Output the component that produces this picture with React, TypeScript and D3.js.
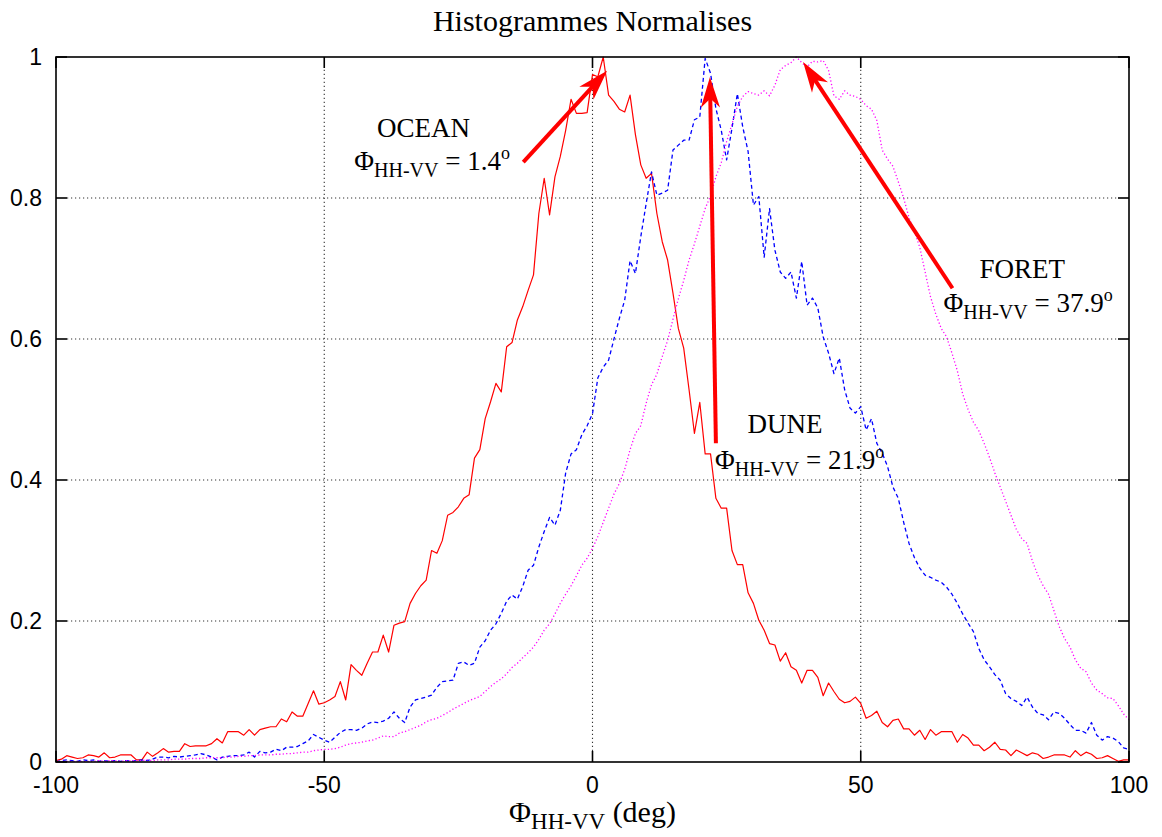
import * as d3 from 'd3';

// bin centres, degrees
const angles = d3.range(-100, 101);

// OCEAN histogram (red, solid)
const ocean = [
  0.002, 0.004, 0.009, 0.007, 0.005, 0.006, 0.01, 0.009, 0.007, 0.013,
  0.006, 0.007, 0.01, 0.01, 0.01, 0.003, 0.003, 0.014, 0.008, 0.013,
  0.019, 0.014, 0.015, 0.015, 0.026, 0.022, 0.023, 0.023, 0.023, 0.026,
  0.033, 0.027, 0.043, 0.043, 0.043, 0.038, 0.046, 0.038, 0.046, 0.048,
  0.05, 0.05, 0.061, 0.057, 0.071, 0.065, 0.065, 0.083, 0.101, 0.082,
  0.084, 0.088, 0.093, 0.114, 0.088, 0.138, 0.13, 0.123, 0.14, 0.156,
  0.156, 0.18, 0.156, 0.194, 0.197, 0.199, 0.225, 0.239, 0.25, 0.258,
  0.3, 0.296, 0.314, 0.35, 0.354, 0.362, 0.374, 0.379, 0.431, 0.443,
  0.487, 0.511, 0.537, 0.525, 0.589, 0.595, 0.627, 0.646, 0.669, 0.691,
  0.778, 0.828, 0.776, 0.83, 0.859, 0.896, 0.94, 0.92, 0.92, 0.921,
  0.975, 0.972, 1.0, 0.946, 0.937, 0.926, 0.922, 0.946, 0.89, 0.847,
  0.828, 0.835, 0.778, 0.738, 0.712, 0.665, 0.615, 0.587, 0.528, 0.466,
  0.51, 0.437, 0.437, 0.374, 0.36, 0.36, 0.3, 0.28, 0.28, 0.24,
  0.225, 0.201, 0.187, 0.168, 0.166, 0.143, 0.155, 0.135, 0.13, 0.112,
  0.13, 0.13, 0.12, 0.094, 0.112, 0.1, 0.089, 0.084, 0.086, 0.092,
  0.083, 0.062, 0.066, 0.072, 0.056, 0.05, 0.059, 0.061, 0.047, 0.047,
  0.038, 0.045, 0.032, 0.046, 0.038, 0.043, 0.043, 0.043, 0.028, 0.039,
  0.034, 0.024, 0.024, 0.016, 0.021, 0.028, 0.018, 0.017, 0.009, 0.017,
  0.013, 0.009, 0.013, 0.011, 0.005, 0.007, 0.01, 0.01, 0.01, 0.007,
  0.016, 0.009, 0.014, 0.011, 0.005, 0.006, 0.009, 0.005, 0.001, 0.003,
  0.003,
];

// DUNE histogram (blue, dashed)
const dune = [
  0.0, 0.002, 0.003, 0.002, 0.001, 0.003, 0.002, 0.003, 0.001, 0.002,
  0.001, 0.002, 0.001, 0.002, 0.001, 0.002, 0.003, 0.002, 0.004, 0.007,
  0.007, 0.006, 0.008, 0.007, 0.008, 0.009, 0.01, 0.012, 0.01, 0.007,
  0.003, 0.007, 0.008, 0.009, 0.009, 0.01, 0.014, 0.007, 0.015, 0.013,
  0.014, 0.018, 0.016, 0.021, 0.021, 0.022, 0.026, 0.03, 0.039, 0.035,
  0.031, 0.028, 0.035, 0.042, 0.046, 0.046, 0.045, 0.048, 0.054, 0.057,
  0.056, 0.058, 0.062, 0.071, 0.062, 0.056, 0.078, 0.088, 0.09, 0.092,
  0.095, 0.106, 0.114, 0.115, 0.116, 0.14, 0.142, 0.137, 0.14, 0.163,
  0.172, 0.187, 0.196, 0.211, 0.228, 0.237, 0.231, 0.249, 0.272, 0.279,
  0.305, 0.327, 0.347, 0.336, 0.357, 0.41, 0.437, 0.443, 0.464, 0.477,
  0.494, 0.545, 0.56, 0.57, 0.6, 0.629, 0.655, 0.711, 0.693, 0.745,
  0.792, 0.837, 0.804, 0.807, 0.811, 0.868, 0.875, 0.882, 0.882, 0.911,
  0.915, 0.998, 0.977, 0.927, 0.896, 0.854, 0.899, 0.948, 0.901, 0.866,
  0.79, 0.802, 0.716, 0.785, 0.726, 0.695, 0.686, 0.695, 0.658, 0.71,
  0.648, 0.658, 0.644, 0.603, 0.58, 0.551, 0.573, 0.528, 0.502, 0.495,
  0.504, 0.471, 0.487, 0.452, 0.438, 0.419, 0.39, 0.374, 0.34, 0.31,
  0.29, 0.275, 0.265, 0.262, 0.258, 0.255, 0.248, 0.238, 0.225, 0.21,
  0.197, 0.185, 0.161, 0.145, 0.135, 0.124, 0.116, 0.097, 0.09, 0.086,
  0.08, 0.092, 0.078, 0.069, 0.067, 0.06, 0.071, 0.069, 0.062, 0.053,
  0.045, 0.045, 0.041, 0.056, 0.038, 0.031, 0.036, 0.034, 0.029, 0.02,
  0.018,
];

// FORET histogram (magenta, dotted)
const foret = [
  0.0, 0.001, 0.001, 0.001, 0.001, 0.001, 0.001, 0.001, 0.002, 0.001,
  0.002, 0.002, 0.001, 0.002, 0.002, 0.002, 0.002, 0.003, 0.002, 0.003,
  0.003, 0.003, 0.004, 0.004, 0.004, 0.005, 0.005, 0.005, 0.006, 0.006,
  0.006, 0.006, 0.007, 0.007, 0.008, 0.008, 0.009, 0.009, 0.01, 0.01,
  0.01, 0.011, 0.011, 0.012, 0.012, 0.013, 0.014, 0.014, 0.016, 0.017,
  0.018, 0.018, 0.019, 0.021, 0.024, 0.026, 0.027, 0.028, 0.03, 0.031,
  0.034, 0.037, 0.036, 0.036, 0.041, 0.043, 0.046, 0.049, 0.052, 0.057,
  0.06, 0.062, 0.066, 0.07, 0.075, 0.079, 0.083, 0.087, 0.09, 0.093,
  0.1, 0.107, 0.113, 0.118, 0.125, 0.134, 0.14, 0.148, 0.155, 0.163,
  0.174, 0.187, 0.196, 0.21, 0.225, 0.238, 0.25, 0.264, 0.279, 0.289,
  0.303, 0.32, 0.34, 0.36, 0.38, 0.395, 0.415, 0.443, 0.466, 0.477,
  0.509, 0.535, 0.55, 0.575, 0.598, 0.628, 0.657, 0.683, 0.712, 0.735,
  0.76, 0.785, 0.803, 0.83, 0.85, 0.88, 0.905, 0.93, 0.944, 0.951,
  0.948, 0.946, 0.952, 0.945, 0.96, 0.982, 0.988, 0.992, 1.0, 0.992,
  0.986, 0.994, 0.993, 0.995, 0.981, 0.945, 0.94, 0.952, 0.946, 0.944,
  0.94, 0.931, 0.926, 0.91, 0.868, 0.855, 0.845, 0.823, 0.8, 0.772,
  0.753, 0.73, 0.695, 0.66, 0.635, 0.615, 0.603, 0.58, 0.555, 0.522,
  0.5, 0.482, 0.47, 0.452, 0.432, 0.41, 0.39, 0.37, 0.35, 0.33,
  0.317, 0.31, 0.285, 0.265, 0.25, 0.238, 0.215, 0.192, 0.175, 0.163,
  0.145, 0.133, 0.128, 0.112, 0.102, 0.097, 0.091, 0.09, 0.08, 0.068,
  0.06,
];

const xTicks = [-100, -50, 0, 50, 100];
const yTicks = [0, 0.2, 0.4, 0.6, 0.8, 1];
const yTickLabels = ['0', '0.2', '0.4', '0.6', '0.8', '1'];

// annotation text and where the arrows point, in data units
const labelNames = ['OCEAN', 'DUNE', 'FORET'];
const labelPhases = ['1.4', '21.9', '37.9'];
const arrowHeads = [[2.3, 0.977], [21.9, 0.967], [39.6, 0.989]];
const arrowTails = [[-12.9, 0.851], [23.0, 0.452], [67.1, 0.672]];
const nameAnchors = [[-31.5, 0.887], [35.9, 0.467], [80.1, 0.686]];
const phaseAnchors = [[-29.9, 0.84], [38.6, 0.416], [81.2, 0.639]];

const W = 1162;
const H = 837;
const margin = { top: 57, right: 33, bottom: 75, left: 56 };

const serif = "'Liberation Serif', 'Times New Roman', serif";
const sans = "'Liberation Sans', Arial, sans-serif";

const App = () => {
  const x = d3.scaleLinear().domain([-100, 100]).range([margin.left, W - margin.right]);
  const y = d3.scaleLinear().domain([0, 1]).range([H - margin.bottom, margin.top]);

  const line = d3.line<number>()
    .x((_, i) => x(angles[i]))
    .y(d => y(d));

  const series = [
    { values: ocean, color: '#ff0000', dash: undefined, width: 1.2 },
    { values: dune, color: '#0000ff', dash: '4,3', width: 1.3 },
    { values: foret, color: '#ff00ff', dash: '1.2,2.3', width: 1.3 },
  ];

  const x0 = x(-100), x1 = x(100), y0 = y(0), y1 = y(1);
  const tickLen = 11;

  // arrow with filled head
  const arrow = (i: number) => {
    const [hx, hy] = [x(arrowHeads[i][0]), y(arrowHeads[i][1])];
    const [tx, ty] = [x(arrowTails[i][0]), y(arrowTails[i][1])];
    const len = Math.hypot(hx - tx, hy - ty);
    const ux = (hx - tx) / len, uy = (hy - ty) / len;
    const nx = -uy, ny = ux;
    const L = 24, Wd = 7.5, N = 17;
    const pts = [
      [hx, hy],
      [hx - L * ux + Wd * nx, hy - L * uy + Wd * ny],
      [hx - N * ux, hy - N * uy],
      [hx - L * ux - Wd * nx, hy - L * uy - Wd * ny],
    ];
    return (
      <g key={'arrow' + i}>
        <line x1={tx} y1={ty} x2={hx - 10 * ux} y2={hy - 10 * uy} stroke="#ff0000" strokeWidth={4} />
        <polygon points={pts.map(p => p.join(',')).join(' ')} fill="#ff0000" stroke="#ff0000" strokeWidth={2} strokeLinejoin="miter" />
      </g>
    );
  };

  return (
    <svg width={W} height={H} style={{ position: 'absolute', left: 0, top: 0, background: '#fff' }}>
      <rect width={W} height={H} fill="#fff" />

      {/* grid */}
      {xTicks.filter(t => t > -100 && t < 100).map(t => (
        <line key={'gx' + t} x1={x(t)} x2={x(t)} y1={y0 - tickLen} y2={y1 + tickLen}
          stroke="#333" strokeWidth={1.1} strokeDasharray="1.2,2.8" />
      ))}
      {yTicks.filter(t => t > 0 && t < 1).map(t => (
        <line key={'gy' + t} x1={x0 + tickLen} x2={x1 - tickLen} y1={y(t)} y2={y(t)}
          stroke="#333" strokeWidth={1.1} strokeDasharray="1.2,2.8" />
      ))}

      {/* curves */}
      {series.map((s, i) => (
        <path key={'s' + i} d={line(s.values) ?? ''} fill="none" stroke={s.color}
          strokeWidth={s.width} strokeDasharray={s.dash} strokeLinejoin="round" />
      ))}

      {/* frame and ticks */}
      <rect x={x0} y={y1} width={x1 - x0} height={y0 - y1} fill="none" stroke="#000" strokeWidth={1.6} />
      {xTicks.map(t => (
        <g key={'tx' + t}>
          <line x1={x(t)} x2={x(t)} y1={y0} y2={y0 - tickLen} stroke="#000" strokeWidth={1.6} />
          <line x1={x(t)} x2={x(t)} y1={y1} y2={y1 + tickLen} stroke="#000" strokeWidth={1.6} />
          <text x={x(t)} y={y0 + 31} textAnchor="middle" fontFamily={sans} fontSize={23} fill="#000">{t}</text>
        </g>
      ))}
      {yTicks.map((t, i) => (
        <g key={'ty' + t}>
          <line x1={x0} x2={x0 + tickLen} y1={y(t)} y2={y(t)} stroke="#000" strokeWidth={1.6} />
          <line x1={x1} x2={x1 - tickLen} y1={y(t)} y2={y(t)} stroke="#000" strokeWidth={1.6} />
          <text x={x0 - 14} y={y(t) + 8} textAnchor="end" fontFamily={sans} fontSize={23} fill="#000">{yTickLabels[i]}</text>
        </g>
      ))}

      {/* title */}
      <text x={(x0 + x1) / 2} y={31} textAnchor="middle" fontFamily={serif} fontSize={30} fill="#000">
        Histogrammes Normalises
      </text>

      {/* x axis label */}
      <text x={(x0 + x1) / 2} y={822} textAnchor="middle" fontFamily={serif} fontSize={30} fill="#000">
        <tspan>Φ</tspan>
        <tspan fontSize={23} dy={7}>HH-VV</tspan>
        <tspan dy={-7}>{' (deg)'}</tspan>
      </text>

      {/* annotations */}
      {labelNames.map((name, i) => (
        <g key={'lab' + i}>
          <text x={x(nameAnchors[i][0])} y={y(nameAnchors[i][1])} textAnchor="middle"
            fontFamily={serif} fontSize={27} fill="#000">{name}</text>
          <text x={x(phaseAnchors[i][0])} y={y(phaseAnchors[i][1])} textAnchor="middle"
            fontFamily={serif} fontSize={27} fill="#000">
            <tspan>Φ</tspan>
            <tspan fontSize={20} dy={7}>HH-VV</tspan>
            <tspan dy={-7}>{' = ' + labelPhases[i]}</tspan>
            <tspan fontSize={18} dy={-11}>o</tspan>
          </text>
        </g>
      ))}
      {labelNames.map((_, i) => arrow(i))}
    </svg>
  );
};

export default App;
